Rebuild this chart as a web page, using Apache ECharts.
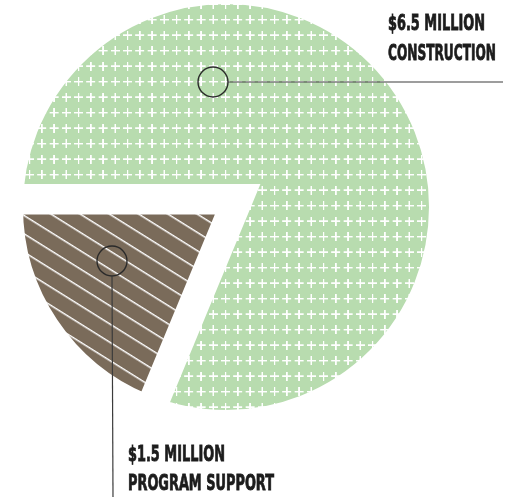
<!DOCTYPE html>
<html><head><meta charset="utf-8">
<script src="https://cdn.jsdelivr.net/npm/echarts@6/dist/echarts.min.js"></script>
<style>html,body{margin:0;padding:0;background:#fff}#c{width:518px;height:498px}</style>
</head><body><div id="c"></div>
<script>
// ---- data ----
const categories = ['CONSTRUCTION', 'PROGRAM SUPPORT'];
const values = [6.5, 1.5];
const valueLabels = ['$6.5 MILLION', '$1.5 MILLION'];

// ---- styles ----
const GREEN = '#b8dcaf';
const BROWN = '#7a6b5a';
const FONT_FAMILY = '"DejaVu Sans"';
const FONT_SIZE = 22;

function plusTile() {
  const c = document.createElement('canvas');
  c.width = 49; c.height = 62;
  const g = c.getContext('2d');
  g.fillStyle = GREEN; g.fillRect(0, 0, 49, 62);
  g.fillStyle = '#ffffff';
  g.fillRect(24.5 - 18, 31 - 3.2, 36, 6.4);
  g.fillRect(24.5 - 3.2, 31 - 18, 6.4, 36);
  return c;
}
function stripeTile() {
  const c = document.createElement('canvas');
  c.width = 8; c.height = 16;
  const g = c.getContext('2d');
  g.fillStyle = BROWN; g.fillRect(0, 0, 8, 16);
  g.fillStyle = '#ffffff';
  g.fillRect(0, 0, 8, 1.5);
  return c;
}
const greenFill = { image: plusTile(), repeat: 'repeat', x: 207.2, y: 73.95, scaleX: 0.25, scaleY: 0.25 };
const brownFill = { image: stripeTile(), repeat: 'repeat', x: 82, y: 214.3, rotation: 32 * Math.PI / 180, scaleX: 1, scaleY: 15.5 / 16 };

const CENTER = [226, 207];
const commonPie = {
  type: 'pie', center: CENTER, startAngle: 180, clockwise: true, silent: true,
  animation: false, label: { show: false }, labelLine: { show: false },
  emphasis: { disabled: true }, avoidLabelOverlap: false
};
const hidden = { color: 'rgba(0,0,0,0)', borderWidth: 0 };

// text scaling to a condensed look
const measure = document.createElement('canvas').getContext('2d');
measure.font = 'bold ' + FONT_SIZE + 'px ' + FONT_FAMILY;
function sx(text, target) { return target / measure.measureText(text).width; }

function textEl(text, x, baseline, width) {
  return {
    type: 'text', x: x, y: baseline - 8, scaleX: sx(text, width), z: 100,
    style: { text: text, fontSize: FONT_SIZE, fontWeight: 'bold', fontFamily: 'DejaVu Sans',
      fill: '#1c1c1c', stroke: '#1c1c1c', lineWidth: 0.9,
      textAlign: 'left', textVerticalAlign: 'middle', verticalAlign: 'middle' }
  };
}

const chart = echarts.init(document.getElementById('c'), null, { renderer: 'canvas' });
chart.setOption({
  backgroundColor: '#ffffff',
  animation: false,
  series: [
    Object.assign({}, commonPie, {
      radius: 226,
      data: [
        { name: categories[0], value: values[0], itemStyle: { color: greenFill, borderColor: '#ffffff', borderWidth: 46, borderJoin: 'miter', borderMiterLimit: 10 } },
        { name: categories[1], value: values[1], itemStyle: hidden }
      ]
    }),
    Object.assign({}, commonPie, {
      radius: 210.5,
      data: [
        { name: categories[0], value: values[0], itemStyle: hidden },
        { name: categories[1], value: values[1], itemStyle: { color: brownFill, borderColor: '#ffffff', borderWidth: 15, borderJoin: 'miter', borderMiterLimit: 10 } }
      ]
    })
  ],
  graphic: { elements: [
    { type: 'circle', z: 100, shape: { cx: 213, cy: 82, r: 15 }, style: { fill: 'none', stroke: '#2a2a2a', lineWidth: 1.4 } },
    { type: 'line', z: 100, shape: { x1: 228, y1: 82, x2: 503, y2: 82 }, style: { stroke: '#3c3c3c', lineWidth: 1.2 } },
    { type: 'circle', z: 100, shape: { cx: 112, cy: 261, r: 15 }, style: { fill: 'none', stroke: '#2a2a2a', lineWidth: 1.4 } },
    { type: 'line', z: 100, shape: { x1: 112, y1: 276, x2: 113, y2: 497 }, style: { stroke: '#3c3c3c', lineWidth: 1.2 } },
    textEl(valueLabels[0], 388, 32, 97),
    textEl(categories[0], 388, 62, 108),
    textEl(valueLabels[1], 128, 463, 97),
    textEl(categories[1], 128, 492, 146)
  ] }
});
</script>
</body></html>
